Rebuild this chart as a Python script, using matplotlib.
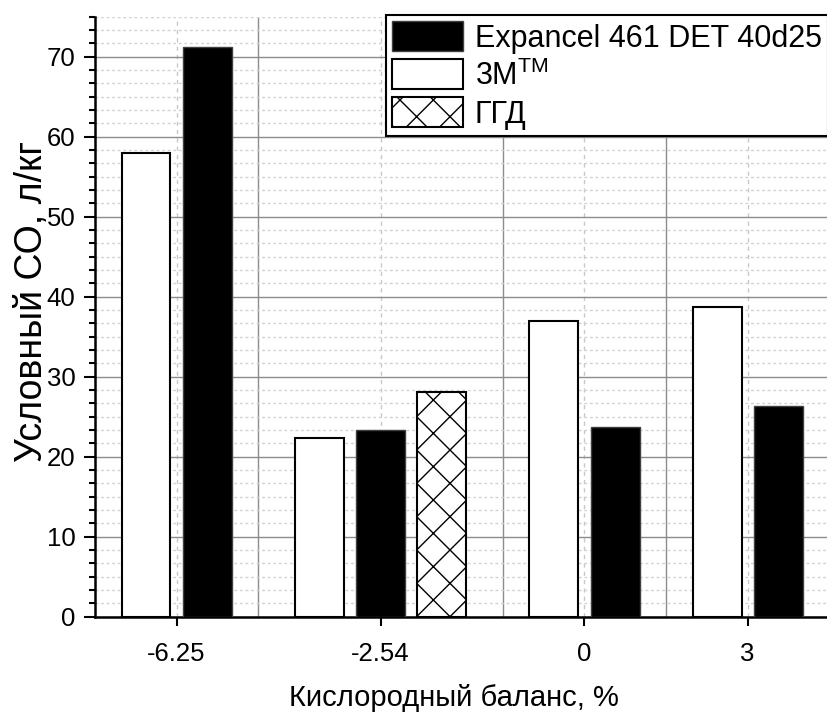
import matplotlib.pyplot as plt
import numpy as np
from matplotlib.ticker import MultipleLocator, AutoMinorLocator, FixedLocator

plt.rcParams['font.family'] = ['Liberation Sans', 'DejaVu Sans']
plt.rcParams['hatch.linewidth'] = 1.0
plt.rcParams['mathtext.default'] = 'regular'

# Data
categories = ['-6.25', '-2.54', '0', '3']
co_3m = [58.0, 22.3, 37.0, 38.7]
co_expancel = [71.2, 23.4, 23.7, 26.4]
co_ggd = [np.nan, 28.1, np.nan, np.nan]

# Layout: group centres on the x axis and bar geometry
group_x = [0, 5, 10, 14]
slot = 1.5
bar_w = 1.2

fig = plt.figure(figsize=(8.28, 7.13), dpi=100)
ax = fig.add_axes([95 / 828, 96.3 / 713, 733 / 828, 600 / 713])

series = [
    (co_3m, dict(color='white', edgecolor='black', linewidth=1.5), '3M$^{TM}$'),
    (co_expancel, dict(color='black', edgecolor='#404040', linewidth=1.0), 'Expancel 461 DET 40d25'),
    (co_ggd, dict(color='white', edgecolor='black', linewidth=1.5, hatch='x'), 'ГГД'),
]

# x position of every bar: bars present in a group are centred on the group
xs = [[] for _ in series]
for g, gx in enumerate(group_x):
    present = [i for i, s in enumerate(series) if not np.isnan(s[0][g])]
    for k, i in enumerate(present):
        xs[i].append(gx + (k - (len(present) - 1) / 2) * slot)
    for i, s in enumerate(series):
        if i not in present:
            xs[i].append(np.nan)

handles = []
for (vals, style, label), x in zip(series, xs):
    v = np.array(vals)
    x = np.array(x)
    m = ~np.isnan(v)
    h = ax.bar(x[m], v[m], width=bar_w, label=label, zorder=3, **style)
    handles.append(h)

ax.set_xlim(-2, 15.97)
ax.set_ylim(0, 75)

ax.set_xticks(group_x, categories)
ax.xaxis.set_minor_locator(FixedLocator([2, 8, 12]))
ax.yaxis.set_major_locator(MultipleLocator(10))
ax.yaxis.set_minor_locator(AutoMinorLocator(6))

ax.set_axisbelow(True)
ax.grid(which='major', axis='y', color='#8c8c8c', lw=1.0, ls='-')
ax.grid(which='minor', axis='y', color='#d2d2d2', lw=1.0, ls=(0, (2, 2)))
ax.grid(which='major', axis='x', color='#c8c8c8', lw=1.0, ls=(0, (3, 3)))
ax.grid(which='minor', axis='x', color='#8c8c8c', lw=1.0, ls='-')

for side in ['top', 'right']:
    ax.spines[side].set_visible(False)
for side in ['left', 'bottom']:
    ax.spines[side].set_linewidth(1.8)

ax.tick_params(axis='both', which='major', width=1.5, labelsize=18.5, direction='out')
ax.tick_params(axis='y', which='major', length=8, pad=6)
ax.tick_params(axis='y', which='minor', length=4.5, width=1.5)
ax.tick_params(axis='x', which='major', length=6.5, pad=12)
ax.tick_params(axis='x', which='minor', length=0)

ax.set_xlabel('Кислородный баланс, %', fontsize=21)
ax.set_ylabel('Условный СО, л/кг', fontsize=27)
ax.xaxis.set_label_coords(0.49, -0.113)
ax.yaxis.set_label_coords(-0.062, 0.525)

order = [1, 0, 2]
leg = ax.legend([handles[i] for i in order], [series[i][2] for i in order],
                loc='upper right', bbox_to_anchor=(1.0, (713 - 15) / 713),
                bbox_transform=fig.transFigure, fontsize=22, frameon=True,
                fancybox=False, edgecolor='black', framealpha=1, borderpad=0.2,
                labelspacing=0.18, handlelength=2.3, handleheight=1.15,
                handletextpad=0.4, borderaxespad=0)
leg.get_frame().set_linewidth(1.5)

fig.savefig('out.png', dpi=100)
